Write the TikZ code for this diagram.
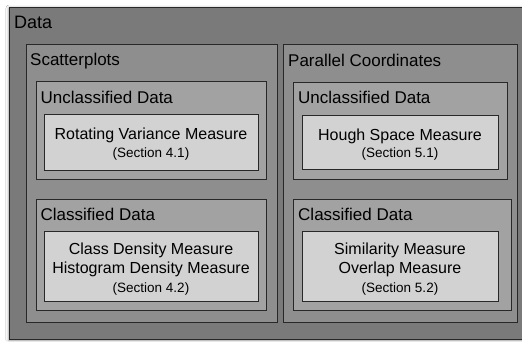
\documentclass[tikz,border=0pt]{standalone}
\usepackage{fontspec}
\setmainfont{Liberation Sans}
\usetikzlibrary{shadows,shadows.blur}
\definecolor{gA}{RGB}{122,122,122}
\definecolor{gB}{RGB}{142,142,142}
\definecolor{gC}{RGB}{162,162,162}
\definecolor{gD}{RGB}{210,210,210}
\definecolor{edge}{RGB}{40,40,40}
\begin{document}
\begin{tikzpicture}[x=1pt,y=-1pt,
  box/.style={draw=edge, line width=0.8pt,
    drop shadow={shadow xshift=1.3pt, shadow yshift=-1.3pt, opacity=0.65, fill=black}},
  outerbox/.style={draw=edge, line width=0.8pt, fill=gA,
    blur shadow={shadow xshift=0pt, shadow yshift=-1pt, shadow blur radius=3pt}},
  lvlB/.style={box, fill=gB},
  lvlC/.style={box, fill=gC},
  lvlD/.style={box, fill=gD},
  lbl/.style={anchor=base west, inner sep=0pt, text=black, font=\fontsize{17}{20}\selectfont},
  biglbl/.style={lbl, font=\fontsize{18}{21}\selectfont},
  mainline/.style={anchor=base, inner sep=0pt, text=black, font=\fontsize{16}{19}\selectfont},
  secline/.style={anchor=base, inner sep=0pt, text=black, font=\fontsize{13.5}{16}\selectfont}]
\useasboundingbox (0,0) rectangle (522,341);
\clip (0,0) rectangle (522,341);
\fill[white] (0,0) rectangle (522,341);

% outer
\path[outerbox] (9,7) rectangle (530,339);
\node[biglbl] (data) at (14,28) {Data};

% columns
\path[lvlB] (26,44) rectangle (277,322);
\node[lbl] (scat) at (30,65) {Scatterplots};
\path[lvlB] (283,44) rectangle (517,322);
\node[lbl] (par) at (288,66) {Parallel Coordinates};

% left column
\path[lvlC] (36,81) rectangle (266,179);
\node[lbl] (lunc) at (40.5,103) {Unclassified Data};
\path[lvlD] (44,114) rectangle (258,170);
\node[mainline] (rot) at (151,139) {Rotating Variance Measure};
\node[secline] (s41) at (151,157) {(Section 4.1)};

\path[lvlC] (36,199) rectangle (266,310);
\node[lbl] (lcls) at (40.5,220) {Classified Data};
\path[lvlD] (44,231) rectangle (258,301);
\node[mainline] (cdm) at (151,254) {Class Density Measure};
\node[mainline] (hdm) at (151,273) {Histogram Density Measure};
\node[secline] (s42) at (151,292) {(Section 4.2)};

% right column
\path[lvlC] (293,82) rectangle (507,179);
\node[lbl] (runc) at (298,103) {Unclassified Data};
\path[lvlD] (302,115) rectangle (498,169);
\node[mainline] (hough) at (400,140) {Hough Space Measure};
\node[secline] (s51) at (400,157) {(Section 5.1)};

\path[lvlC] (293,199) rectangle (511,310);
\node[lbl] (rcls) at (298,220) {Classified Data};
\path[lvlD] (302,231) rectangle (498,301);
\node[mainline] (sim) at (400,254) {Similarity Measure};
\node[mainline] (ovl) at (400,273) {Overlap Measure};
\node[secline] (s52) at (400,292) {(Section 5.2)};
\end{tikzpicture}
\end{document}
